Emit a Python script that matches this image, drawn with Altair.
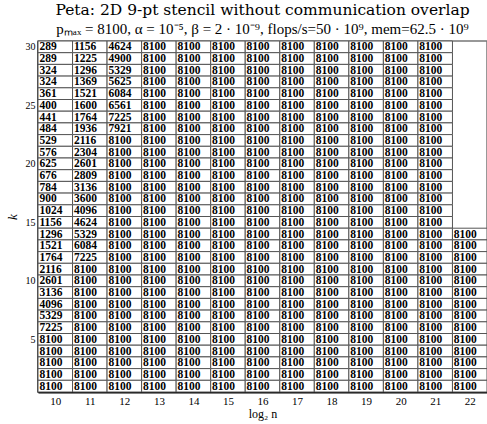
import altair as alt
import pandas as pd

# log2 n columns and k rows (top row k=30 first)
cols = [10, 11, 12, 13, 14, 15, 16, 17, 18, 19, 20, 21, 22]
ks = list(range(30, 0, -1))

# table rows, k = 30 down to 1 (values for columns 10..21 or 10..22)
rows = [
    [289, 1156, 4624, 8100, 8100, 8100, 8100, 8100, 8100, 8100, 8100, 8100],
    [289, 1225, 4900, 8100, 8100, 8100, 8100, 8100, 8100, 8100, 8100, 8100],
    [324, 1296, 5329, 8100, 8100, 8100, 8100, 8100, 8100, 8100, 8100, 8100],
    [324, 1369, 5625, 8100, 8100, 8100, 8100, 8100, 8100, 8100, 8100, 8100],
    [361, 1521, 6084, 8100, 8100, 8100, 8100, 8100, 8100, 8100, 8100, 8100],
    [400, 1600, 6561, 8100, 8100, 8100, 8100, 8100, 8100, 8100, 8100, 8100],
    [441, 1764, 7225, 8100, 8100, 8100, 8100, 8100, 8100, 8100, 8100, 8100],
    [484, 1936, 7921, 8100, 8100, 8100, 8100, 8100, 8100, 8100, 8100, 8100],
    [529, 2116, 8100, 8100, 8100, 8100, 8100, 8100, 8100, 8100, 8100, 8100],
    [576, 2304, 8100, 8100, 8100, 8100, 8100, 8100, 8100, 8100, 8100, 8100],
    [625, 2601, 8100, 8100, 8100, 8100, 8100, 8100, 8100, 8100, 8100, 8100],
    [676, 2809, 8100, 8100, 8100, 8100, 8100, 8100, 8100, 8100, 8100, 8100],
    [784, 3136, 8100, 8100, 8100, 8100, 8100, 8100, 8100, 8100, 8100, 8100],
    [900, 3600, 8100, 8100, 8100, 8100, 8100, 8100, 8100, 8100, 8100, 8100],
    [1024, 4096, 8100, 8100, 8100, 8100, 8100, 8100, 8100, 8100, 8100, 8100],
    [1156, 4624, 8100, 8100, 8100, 8100, 8100, 8100, 8100, 8100, 8100, 8100],
    [1296, 5329, 8100, 8100, 8100, 8100, 8100, 8100, 8100, 8100, 8100, 8100, 8100],
    [1521, 6084, 8100, 8100, 8100, 8100, 8100, 8100, 8100, 8100, 8100, 8100, 8100],
    [1764, 7225, 8100, 8100, 8100, 8100, 8100, 8100, 8100, 8100, 8100, 8100, 8100],
    [2116, 8100, 8100, 8100, 8100, 8100, 8100, 8100, 8100, 8100, 8100, 8100, 8100],
    [2601, 8100, 8100, 8100, 8100, 8100, 8100, 8100, 8100, 8100, 8100, 8100, 8100],
    [3136, 8100, 8100, 8100, 8100, 8100, 8100, 8100, 8100, 8100, 8100, 8100, 8100],
    [4096, 8100, 8100, 8100, 8100, 8100, 8100, 8100, 8100, 8100, 8100, 8100, 8100],
    [5329, 8100, 8100, 8100, 8100, 8100, 8100, 8100, 8100, 8100, 8100, 8100, 8100],
    [7225, 8100, 8100, 8100, 8100, 8100, 8100, 8100, 8100, 8100, 8100, 8100, 8100],
    [8100, 8100, 8100, 8100, 8100, 8100, 8100, 8100, 8100, 8100, 8100, 8100, 8100],
    [8100, 8100, 8100, 8100, 8100, 8100, 8100, 8100, 8100, 8100, 8100, 8100, 8100],
    [8100, 8100, 8100, 8100, 8100, 8100, 8100, 8100, 8100, 8100, 8100, 8100, 8100],
    [8100, 8100, 8100, 8100, 8100, 8100, 8100, 8100, 8100, 8100, 8100, 8100, 8100],
    [8100, 8100, 8100, 8100, 8100, 8100, 8100, 8100, 8100, 8100, 8100, 8100, 8100],
]

x_ticks = cols
y_ticks = [5, 10, 15, 20, 25, 30]

records = []
for k, row in zip(ks, rows):
    for n, v in zip(cols, row):
        records.append({"n": n, "k": k, "p": v})
df = pd.DataFrame(records)

FONT = "Liberation Serif"
TFONT = "DejaVu Serif"

base = alt.Chart(df).transform_calculate(
    x0="datum.n - 0.5", x1="datum.n + 0.5",
    y0="datum.k - 0.5", y1="datum.k + 0.5",
    xt="datum.n - 0.46",
)

xscale = alt.Scale(domain=[9.5, 22.5], nice=False, zero=False)
yscale = alt.Scale(domain=[0.5, 30.5], nice=False, zero=False)

xaxis = alt.Axis(values=x_ticks, title="log₂ n", ticks=False, grid=False,
                 labelOverlap=False, labelFlush=False,
                 labelFont=FONT, labelFontSize=11, labelPadding=3,
                 titleFont=FONT, titleFontSize=12, titleFontWeight="normal",
                 titlePadding=2, domainColor="black", domainWidth=2)
yaxis = alt.Axis(values=y_ticks, title="k", ticks=False, grid=False,
                 labelOverlap=False, labelFlush=False,
                 labelFont=FONT, labelFontSize=10, labelPadding=3,
                 titleFont=FONT, titleFontSize=13, titleFontWeight="normal",
                 titleFontStyle="italic", titlePadding=6,
                 domainColor="black", domainWidth=2)

cells = base.mark_rect(fill="white", stroke="#555", strokeWidth=1).encode(
    x=alt.X("x0:Q", scale=xscale, axis=xaxis),
    x2="x1:Q",
    y=alt.Y("y0:Q", scale=yscale, axis=yaxis),
    y2="y1:Q",
)

labels = base.mark_text(align="left", baseline="middle", font=FONT,
                        fontSize=11.5, fontWeight="bold", color="black", dy=0.5).encode(
    x=alt.X("xt:Q", scale=xscale, axis=xaxis),
    y=alt.Y("k:Q", scale=yscale, axis=yaxis),
    text="p:Q",
)

chart = (cells + labels).properties(
    width=449, height=351,
    autosize=alt.AutoSizeParams(type="none"),
    padding={"left": 38, "top": 41, "right": 0, "bottom": 32},
    title=alt.TitleParams(
        text="Peta: 2D 9-pt stencil without communication overlap",
        subtitle="pₘₐₓ = 8100, α = 10⁻⁵, β = 2 · 10⁻⁹, flops/s=50 · 10⁹, mem=62.5 · 10⁹",
        font=TFONT, fontSize=15.5, fontWeight="normal", color="black",
        subtitleFont=FONT, subtitleFontSize=15, subtitleColor="black",
        subtitlePadding=3, offset=4, anchor="middle",
    ),
).configure_view(stroke="#777", strokeWidth=1.5)

chart.save("out.html", embed_options={"renderer": "svg", "actions": False})
